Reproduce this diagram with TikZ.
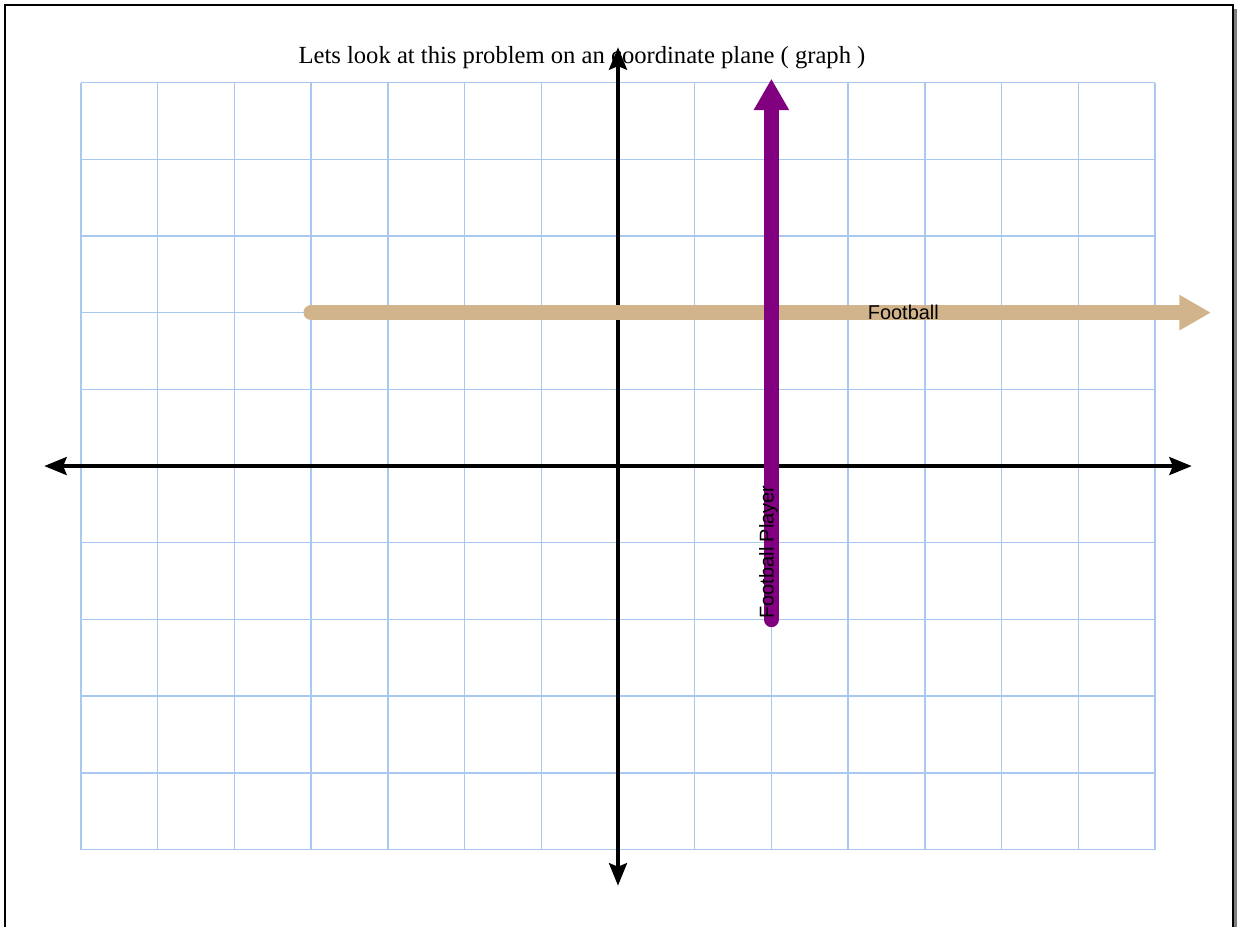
\documentclass[tikz,border=0pt]{standalone}
\usepackage{fontspec}
\setmainfont{Liberation Serif}
\setsansfont{Liberation Sans}
\usepackage{tikz}
\usetikzlibrary{arrows.meta, positioning}
\definecolor{gridblue}{RGB}{168, 200, 240}
\definecolor{ballcolor}{RGB}{210, 180, 140}
\definecolor{playercolor}{RGB}{128, 0, 128}

\begin{document}
\begin{tikzpicture}[x=1.5cm, y=1.5cm,
    axis/.style={line width=2pt, -{Stealth[length=12.5pt, width=10pt, inset=2pt]}},
    path arrow/.style={line width=8.6pt, line cap=round, -{Triangle[length=17.5pt, width=18.5pt]}},
    label/.style={font=\sffamily\fontsize{11.1}{13}\selectfont, inner sep=1pt}]
  \useasboundingbox (-8.057,-5.997) rectangle (8.083,6.076);
  % page frame with shadow
  \fill[black!50] (-7.93,-6.3) rectangle (8.075,5.96);
  \draw[fill=white, line width=1.4pt] (-7.99,-6.3) rectangle (8.015,6.01);
  \draw[gridblue, line width=0.8pt, step=1.5cm] (-7,-5) grid (7,5);
  \node[font=\fontsize{13.7}{16}\selectfont, inner sep=0pt] (title) at (-0.47,5.33)
    {Lets look at this problem on an coordinate plane ( graph )};
  % axes
  \coordinate (xl) at (-7.48,0);
  \coordinate (xr) at (7.48,0);
  \coordinate (yb) at (0,-5.47);
  \coordinate (yt) at (0,5.46);
  \draw[axis] (0,0) -- (xl);
  \draw[axis] (0,0) -- (xr);
  \draw[axis] (0,0) -- (yt);
  \draw[axis] (0,0) -- (yb);
  % the two paths
  \coordinate (ballstart) at (-4,2);
  \coordinate (ballend) at (7.73,2);
  \coordinate (playerstart) at (2,-2);
  \coordinate (playerend) at (2,5.05);
  \draw[path arrow, ballcolor] (ballstart) -- (ballend);
  \draw[path arrow, playercolor] (playerstart) -- (playerend);
  \node[label] (ball) at (3.72,2) {Football};
  \node[label, rotate=90] (player) at (1.96,-1.12) {Football Player};
\end{tikzpicture}
\end{document}
